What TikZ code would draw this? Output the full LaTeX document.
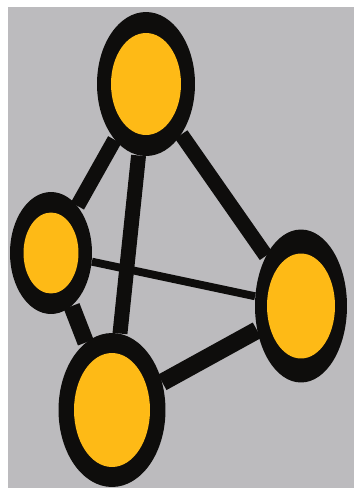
\documentclass[tikz,border=0pt]{standalone}
\usetikzlibrary{shapes.geometric}
\definecolor{panelgray}{RGB}{188,187,190}
\definecolor{nodeyellow}{RGB}{254,186,22}
\definecolor{inkblack}{RGB}{14,13,12}

\tikzset{
  vertex/.style={ellipse, fill=inkblack, inner sep=0pt},
  core/.style={ellipse, fill=nodeyellow, inner sep=0pt},
  link/.style={inkblack, line width=8.5pt},
  thinlink/.style={inkblack, line width=4.5pt}
}

\begin{document}
\begin{tikzpicture}[x=0.02cm, y=-0.02cm]

  % Frame: white margin and gray panel
  \useasboundingbox (0,0) rectangle (354,491);
  \fill[white] (0,0) rectangle (354,491);
  \fill[panelgray] (8,7) rectangle (354,488);

  % Vertices (black ring with yellow core)
  \node[vertex, minimum width=1.96cm, minimum height=2.88cm] (top) at (146,84) {};
  \node[core, minimum width=1.40cm, minimum height=2.04cm] (topin) at (top) {};

  \node[vertex, minimum width=1.64cm, minimum height=2.44cm] (left) at (51,253) {};
  \node[core, minimum width=1.10cm, minimum height=1.62cm] (leftin) at (left) {};

  \node[vertex, minimum width=1.84cm, minimum height=3.06cm] (right) at (301,306) {};
  \node[core, minimum width=1.36cm, minimum height=2.10cm] (rightin) at (right) {};

  \node[vertex, minimum width=2.14cm, minimum height=3.08cm] (bottom) at (112,410) {};
  \node[core, minimum width=1.52cm, minimum height=2.28cm] (bottomin) at (bottom) {};

  % Edges
  \draw[link] (top) -- (left);
  \draw[link] (top) -- (bottom);
  \draw[link] (top) -- (right);
  \draw[thinlink] (left) -- (right);
  \draw[link, line width=9.5pt] (left) -- (bottom);
  \draw[link, line width=10pt] (bottom) -- (right);

\end{tikzpicture}
\end{document}
